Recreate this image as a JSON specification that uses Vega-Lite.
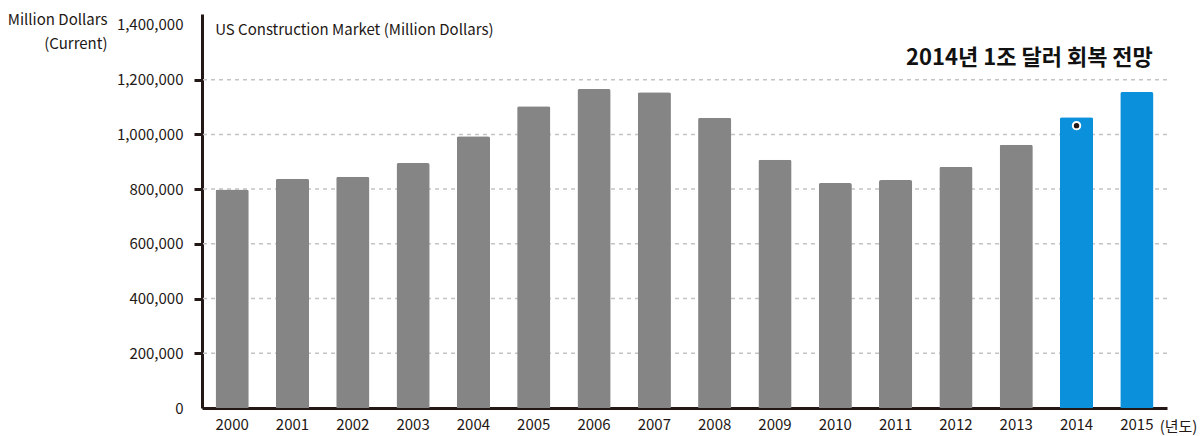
{
  "$schema": "https://vega.github.io/schema/vega-lite/v6.json",
  "width": 965,
  "height": 394,
  "autosize": "none",
  "padding": {"left": 202, "top": 14, "right": 34, "bottom": 28},
  "background": "white",
  "config": {
    "font": "Noto Sans CJK KR",
    "view": {"stroke": null},
    "axisY": {"ticks": true, "tickSize": 8, "tickWidth": 3, "tickColor": "#231815", "tickOpacity": 1}
  },
  "datasets": {
    "market": [
      {"year": "2000", "value": 798500},
      {"year": "2001", "value": 837600},
      {"year": "2002", "value": 845000},
      {"year": "2003", "value": 895000},
      {"year": "2004", "value": 993000},
      {"year": "2005", "value": 1103000},
      {"year": "2006", "value": 1166000},
      {"year": "2007", "value": 1154000},
      {"year": "2008", "value": 1061000},
      {"year": "2009", "value": 907000},
      {"year": "2010", "value": 822000},
      {"year": "2011", "value": 833000},
      {"year": "2012", "value": 882000},
      {"year": "2013", "value": 962000},
      {"year": "2014", "value": 1063000},
      {"year": "2015", "value": 1155000}
    ],
    "marker": [
      {"year": "2014", "value": 1032000}
    ],
    "gridlines": [
      {"value": 200000}, {"value": 400000}, {"value": 600000},
      {"value": 800000}, {"value": 1000000}, {"value": 1200000}
    ],
    "notes": [
      {"year": "2000", "value": 1381000, "label": "US Construction Market (Million Dollars)", "kind": "sub"},
      {"year": "2015", "value": 1279000, "label": "2014년 1조 달러 회복 전망", "kind": "head"}
    ]
  },
  "layer": [
    {
      "data": {"name": "gridlines"},
      "mark": {"type": "rule", "color": "#c4c4c4", "strokeDash": [4, 4], "strokeWidth": 1.5},
      "encoding": {
        "y": {
          "field": "value",
          "type": "quantitative",
          "scale": {"domain": [0, 1440000], "nice": false},
          "axis": {
            "values": [0, 200000, 400000, 600000, 800000, 1000000, 1200000, 1400000],
            "format": ",d",
            "title": ["Million Dollars", "(Current)"],
            "titleAngle": 0,
            "titleAlign": "right",
            "titleBaseline": "top",
            "titleX": -95,
            "titleY": -2,
            "titleFontSize": 15,
            "titleFontWeight": "normal",
            "titleColor": "#231815",
            "titleLineHeight": 24,
            "labelFontSize": 15,
            "labelColor": "#231815",
            "labelPadding": 11,
            "ticks": true,
            "tickSize": 8,
            "tickWidth": 3,
            "tickColor": "#231815",
            "tickOpacity": {"condition": {"test": "datum.value > 0 && datum.value < 1300000", "value": 1}, "value": 0},
            "domainColor": "#231815",
            "domainWidth": 3,
            "grid": false
          }
        }
      }
    },
    {
      "data": {"name": "market"},
      "mark": {"type": "bar", "cornerRadiusTopLeft": 2, "cornerRadiusTopRight": 2},
      "encoding": {
        "x": {
          "field": "year",
          "type": "ordinal",
          "scale": {"paddingInner": 0.45, "paddingOuter": 0.225},
          "axis": {
            "title": "(년도)",
            "titleX": 976,
            "titleY": 18,
            "titleBaseline": "middle",
            "titleAlign": "center",
            "titleFontSize": 15,
            "titleFontWeight": "normal",
            "titleColor": "#231815",
            "labelAngle": 0,
            "labelFontSize": 15,
            "labelColor": "#231815",
            "labelPadding": 9,
            "ticks": false,
            "domainColor": "#231815",
            "domainWidth": 3
          }
        },
        "y": {"field": "value", "type": "quantitative"},
        "color": {
          "condition": {"test": "datum.year == '2014' || datum.year == '2015'", "value": "#0b90dc"},
          "value": "#858585"
        }
      }
    },
    {
      "data": {"name": "marker"},
      "mark": {"type": "point", "filled": true, "size": 55, "color": "#231815", "stroke": "white", "strokeWidth": 2, "opacity": 1},
      "encoding": {
        "x": {"field": "year", "type": "ordinal"},
        "y": {"field": "value", "type": "quantitative"}
      }
    },
    {
      "data": {"name": "notes"},
      "transform": [{"filter": "datum.kind == 'sub'"}],
      "mark": {"type": "text", "align": "left", "baseline": "middle", "fontSize": 15, "color": "#231815", "dx": -17},
      "encoding": {
        "x": {"field": "year", "type": "ordinal"},
        "y": {"field": "value", "type": "quantitative"},
        "text": {"field": "label"}
      }
    },
    {
      "data": {"name": "notes"},
      "transform": [{"filter": "datum.kind == 'head'"}],
      "mark": {"type": "text", "align": "right", "baseline": "middle", "fontSize": 22, "fontWeight": "bold", "color": "#111111", "dx": 16},
      "encoding": {
        "x": {"field": "year", "type": "ordinal"},
        "y": {"field": "value", "type": "quantitative"},
        "text": {"field": "label"}
      }
    }
  ]
}
